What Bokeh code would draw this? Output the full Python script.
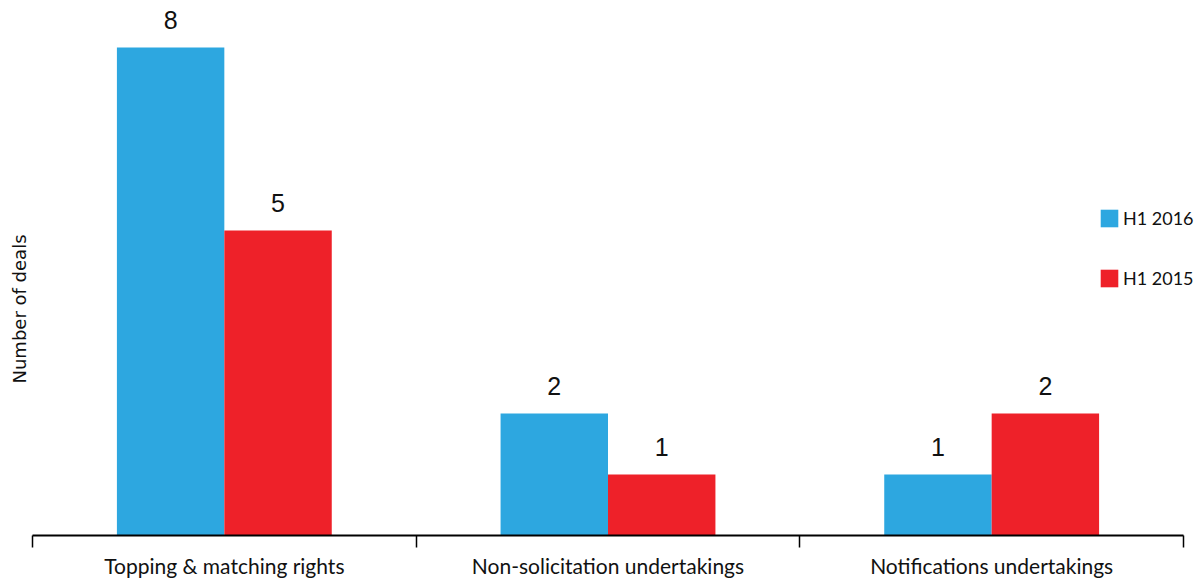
import math
from bokeh.plotting import figure
from bokeh.models import (ColumnDataSource, Range1d, LinearAxis, FixedTicker,
                          Legend, LegendItem, Label)
from bokeh.transform import dodge
from bokeh.core.properties import value
from bokeh.embed import file_html
from bokeh.resources import INLINE

# Deal protection provisions, number of deals per half-year
categories = ["Topping & matching rights", "Non-solicitation undertakings", "Notifications undertakings"]
h1_2016 = [8, 2, 1]
h1_2015 = [5, 1, 2]
series_names = ["H1 2016", "H1 2015"]
colors = ["#2DA7E0", "#EE2129"]

FONT = "Lato"
NUM_FONT = "Liberation Sans"
PX_PER_DEAL = 61          # vertical pixels per deal
PX_PER_GROUP = 1151 / 3   # horizontal pixels per category group
LEFT_PAD, RIGHT_PAD = 32, 21

n = len(categories)
centers = [i + 0.5 for i in range(n)]

src = ColumnDataSource(dict(
    xc=centers,
    y16=h1_2016,
    y15=h1_2015,
    t16=[str(v) for v in h1_2016],
    t15=[str(v) for v in h1_2015],
))

p = figure(
    width=1204, height=580,
    x_range=Range1d(-LEFT_PAD / PX_PER_GROUP, n + RIGHT_PAD / PX_PER_GROUP),
    y_range=Range1d(0, 535 / PX_PER_DEAL),
    x_axis_type=None, y_axis_type=None,
    output_backend="svg", toolbar_location=None,
    min_border_left=0, min_border_right=0, min_border_top=0, min_border_bottom=45,
)
p.outline_line_color = None
p.grid.visible = False
p.background_fill_color = "white"

off = 0.14
bw = 0.28
r16 = p.vbar(x=dodge("xc", -off), top="y16", width=bw, source=src,
             fill_color=colors[0], line_color=None)
r15 = p.vbar(x=dodge("xc", off), top="y15", width=bw, source=src,
             fill_color=colors[1], line_color=None)

# value labels above bars
for col, tcol, dx in (("y16", "t16", -off), ("y15", "t15", off)):
    p.text(x=dodge("xc", dx), y=col, text=tcol, source=src,
           text_align="center", text_baseline="middle", y_offset=-28,
           text_font=value(NUM_FONT), text_font_size="25px", text_color="#111111")

# x axis: names centred under groups, ticks on group boundaries
xaxis = LinearAxis(ticker=FixedTicker(ticks=centers, minor_ticks=list(range(n + 1))),
                   major_label_overrides={c: name for c, name in zip(centers, categories)},
                   bounds=(0, n))
xaxis.axis_line_color = "black"
xaxis.axis_line_width = 2
xaxis.major_tick_line_color = None
xaxis.major_tick_in = 0
xaxis.major_tick_out = 0
xaxis.minor_tick_line_color = "black"
xaxis.minor_tick_line_width = 1.5
xaxis.minor_tick_in = 0
xaxis.minor_tick_out = 12
xaxis.major_label_standoff = 5
xaxis.major_label_text_font = FONT
xaxis.major_label_text_font_size = "21px"
xaxis.major_label_text_color = "#111111"
p.add_layout(xaxis, "below")

# y axis title
p.add_layout(Label(x=-13 / PX_PER_GROUP, y=226.5 / PX_PER_DEAL, text="Number of deals",
                   angle=math.pi / 2, text_align="center", text_baseline="middle",
                   text_font="DejaVu Sans", text_font_size="18px", text_color="#111111"))

legend = Legend(items=[LegendItem(label=series_names[0], renderers=[r16]),
                       LegendItem(label=series_names[1], renderers=[r15])],
                location=(1098, 246))
legend.border_line_color = None
legend.background_fill_alpha = 0
legend.padding = 0
legend.margin = 0
legend.spacing = 38
legend.glyph_width = 22
legend.glyph_height = 22
legend.label_height = 22
legend.label_standoff = 3
legend.label_text_font = FONT
legend.label_text_font_size = "18px"
legend.label_text_color = "#111111"
p.add_layout(legend)

open("out.html", "w").write(file_html(p, INLINE))
